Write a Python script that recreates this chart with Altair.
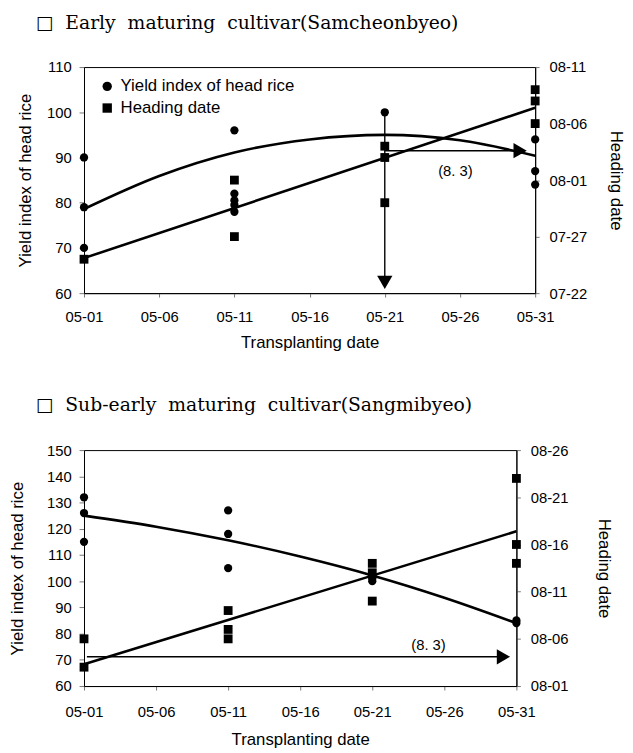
import altair as alt
import pandas as pd

S_YIELD = "Yield index of head rice"
S_HEAD = "Heading date"

# ---------------- Panel 1: Samcheonbyeo ----------------
p1_title = "\u25a1\u00a0\u00a0Early\u00a0\u00a0maturing\u00a0\u00a0cultivar(Samcheonbyeo)"
p1_yield_x = [1, 1, 1, 11, 11, 11, 11, 11, 21, 31, 31, 31]
p1_yield_y = [90, 79, 70, 96, 82, 80.5, 79.5, 78, 100, 94, 87, 84]
p1_head_x = [1, 11, 11, 21, 21, 21, 31, 31, 31]
p1_head_date = ["07-25", "08-01", "07-27", "08-04", "08-03", "07-30", "08-09", "08-08", "08-06"]
p1_curve_x = [1, 6, 11, 16, 21, 26, 31]
p1_curve_y = [78.6, 85.9, 91.1, 94.0, 95.0, 93.8, 90.4]
p1_trend_x = [1, 31]
p1_trend_day = [25.1, 38.4]          # days counted from July 0
p1_yl_ticks = [60, 70, 80, 90, 100, 110]
p1_yr_ticks = [22, 27, 32, 37, 42]   # 07-22 ... 08-11
# annotation (arrow from 05-21 down to the axis, and across to 05-31 at 8.3)
p1_vline = {"x": [21], "y": [100], "y2": [61.5]}
p1_vhead = {"x": [21], "y": [62.4]}
p1_hline = {"x": [21], "x2": [30.0], "y": [34.6]}
p1_hhead = {"x": [30.0], "y": [34.6]}
p1_note = {"x": [25.7], "y": [86.9], "label": ["(8. 3)"]}

# ---------------- Panel 2: Sangmibyeo ----------------
p2_title = "\u25a1\u00a0\u00a0Sub-early\u00a0\u00a0maturing\u00a0\u00a0cultivar(Sangmibyeo)"
p2_yield_x = [1, 1, 1, 11, 11, 11, 21, 21, 21, 31, 31]
p2_yield_y = [132, 126, 115, 127, 118, 105, 102, 101, 100, 85, 84]
p2_head_x = [1, 1, 11, 11, 11, 21, 21, 21, 31, 31, 31]
p2_head_date = ["08-06", "08-03", "08-09", "08-07", "08-06", "08-14", "08-13", "08-10",
                "08-23", "08-16", "08-14"]
p2_curve_x = [1, 6, 11, 16, 21, 26, 31]
p2_curve_y = [125.0, 120.8, 115.6, 109.4, 102.2, 93.7, 84.0]
p2_trend_x = [1, 31]
p2_trend_day = [3.3, 17.4]           # days of August
p2_yl_ticks = [60, 70, 80, 90, 100, 110, 120, 130, 140, 150]
p2_yr_ticks = [1, 6, 11, 16, 21, 26]  # 08-01 ... 08-26
p2_hline = {"x": [1.2], "x2": [30.1], "y": [4.1]}
p2_hhead = {"x": [30.1], "y": [4.1]}
p2_note = {"x": [24.9], "y": [75.8], "label": ["(8. 3)"]}

X_TICKS = [1, 6, 11, 16, 21, 26, 31]


def to_day(s, base_month):
    m, d = (int(v) for v in s.split("-"))
    return d + (31 if m == base_month + 1 and base_month == 7 else 0)


def panel(title, width, height, yl_dom, yl_ticks, yr_dom, yr_ticks, month_js,
          base_month, yield_x, yield_y, head_x, head_date, curve_x, curve_y,
          trend_x, trend_day, hline, hhead, note, vline=None, vhead=None,
          legend_xy=(15, 10), legend_rowpad=5, ytitle_pad=12, yrtitle_pad=14,
          xlabel_pad=11, xtitle_pad=10, title_offset=28):
    ydf = pd.DataFrame({"x": yield_x, "y": yield_y, "series": S_YIELD})
    hdf = pd.DataFrame({"x": head_x, "y": [to_day(s, base_month) for s in head_date],
                        "series": S_HEAD})
    cdf = pd.DataFrame({"x": curve_x, "y": curve_y})
    tdf = pd.DataFrame({"x": trend_x, "y": trend_day})

    X = alt.X("x:Q", scale=alt.Scale(domain=[1, 31], nice=False, zero=False),
              axis=alt.Axis(values=X_TICKS,
                            labelExpr="timeFormat(datetime(2000,4,datum.value),'%m-%d')",
                            title="Transplanting date", tickSize=4, labelFlush=False,
                            labelOverlap=False,
                            labelPadding=xlabel_pad, titlePadding=xtitle_pad))
    YL = alt.Y("y:Q", scale=alt.Scale(domain=yl_dom, nice=False, zero=False),
               axis=alt.Axis(values=yl_ticks, title=S_YIELD, orient="left",
                             tickSize=5, labelPadding=8, titlePadding=ytitle_pad,
                             labelFlush=False, labelOverlap=False))
    YR = alt.Y("y:Q", scale=alt.Scale(domain=yr_dom, nice=False, zero=False),
               axis=alt.Axis(values=yr_ticks, title=S_HEAD, orient="right",
                             labelExpr="timeFormat(datetime(2000,%d,datum.value),'%%m-%%d')" % month_js,
                             tickSize=4, labelPadding=10, titlePadding=yrtitle_pad,
                             labelFlush=False, labelOverlap=False))
    shape = alt.Shape("series:N",
                      scale=alt.Scale(domain=[S_YIELD, S_HEAD], range=["circle", "square"]),
                      legend=alt.Legend(title=None, orient="none",
                                        legendX=legend_xy[0], legendY=legend_xy[1],
                                        labelFont="Liberation Sans", labelFontSize=17,
                                        labelColor="black", labelLimit=0, symbolSize=90,
                                        symbolFillColor="black", symbolStrokeWidth=0,
                                        symbolOpacity=1, padding=0,
                                        rowPadding=legend_rowpad, labelOffset=5))

    curve = alt.Chart(cdf).mark_line(color="black", strokeWidth=2.6,
                                     interpolate="monotone").encode(x=X, y=YL)
    ypts = alt.Chart(ydf).mark_point(filled=True, color="black", opacity=1,
                                     size=70).encode(x=X, y=YL, shape=shape)
    note_l = alt.Chart(pd.DataFrame(note)).mark_text(
        font="Liberation Sans", fontSize=15, color="black").encode(
        x=X, y=YL, text="label:N")
    left_layers = [curve, ypts, note_l]
    if vline is not None:
        left_layers.append(alt.Chart(pd.DataFrame(vline)).mark_rule(
            color="black", strokeWidth=1.4).encode(x=X, y=YL, y2="y2:Q"))
        left_layers.append(alt.Chart(pd.DataFrame(vhead)).mark_point(
            shape="triangle-down", filled=True, color="black", opacity=1,
            size=240).encode(x=X, y=YL))
    left = alt.layer(*left_layers)

    trend = alt.Chart(tdf).mark_line(color="black", strokeWidth=2.6).encode(x=X, y=YR)
    hpts = alt.Chart(hdf).mark_point(filled=True, color="black", opacity=1,
                                     size=80).encode(x=X, y=YR, shape=shape)
    hl = alt.Chart(pd.DataFrame(hline)).mark_rule(color="black", strokeWidth=1.4).encode(
        x=X, x2="x2:Q", y=YR)
    hh = alt.Chart(pd.DataFrame(hhead)).mark_point(
        shape="triangle-right", filled=True, color="black", opacity=1,
        size=240).encode(x=X, y=YR)
    right = alt.layer(trend, hpts, hl, hh)

    return alt.layer(left, right).resolve_scale(y="independent").properties(
        width=width, height=height,
        title=alt.TitleParams(title, anchor="start", frame="group", dx=-49,
                              font="DejaVu Serif", fontSize=19,
                              fontWeight="normal", color="black", offset=title_offset))


p1 = panel(p1_title, 457, 229, [60, 110], p1_yl_ticks, [22, 42], p1_yr_ticks, 6, 7,
           p1_yield_x, p1_yield_y, p1_head_x, p1_head_date, p1_curve_x, p1_curve_y,
           p1_trend_x, p1_trend_day, p1_hline, p1_hhead, p1_note,
           vline=p1_vline, vhead=p1_vhead, legend_xy=(15, 11), legend_rowpad=4,
           ytitle_pad=12, yrtitle_pad=20, xlabel_pad=13, xtitle_pad=10)
p2 = panel(p2_title, 438, 239, [60, 150], p2_yl_ticks, [1, 26], p2_yr_ticks, 7, 8,
           p2_yield_x, p2_yield_y, p2_head_x, p2_head_date, p2_curve_x, p2_curve_y,
           p2_trend_x, p2_trend_day, p2_hline, p2_hhead, p2_note,
           legend_xy=(41, 8), legend_rowpad=2,
           ytitle_pad=20, yrtitle_pad=27, xlabel_pad=15, xtitle_pad=12, title_offset=29)

chart = alt.vconcat(p1, p2, spacing=44).properties(
    padding={"left": 0, "top": 0, "right": 0, "bottom": 0}
).configure_axis(
    labelFont="Liberation Sans", labelFontSize=15, labelColor="black",
    titleFont="Liberation Sans", titleFontSize=17, titleFontWeight="normal",
    titleColor="black", grid=False, tickColor="#777", domainColor="black"
).configure_view(stroke="black", strokeWidth=1)

chart.save("out.html", embed_options={"renderer": "svg", "actions": False})
